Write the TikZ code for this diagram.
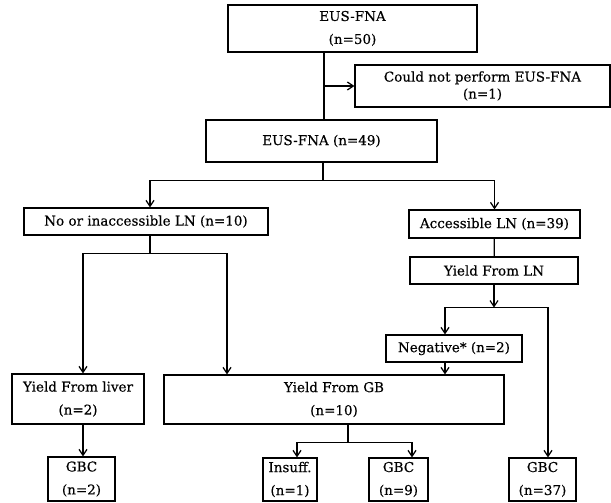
\documentclass[tikz,border=0pt]{standalone}
\usepackage{fontspec}
\newfontface\flowfont[FakeBold=0.35]{DejaVu Serif}
\usetikzlibrary{arrows.meta,calc}

\begin{document}
\begin{tikzpicture}[x=1pt,y=-1pt,
    every node/.style={font=\flowfont\fontsize{13.5}{23}\selectfont},
    flowbox/.style={draw=black, line width=1.2pt, inner sep=0pt, align=center},
    link/.style={line width=1.2pt},
    arr/.style={link, -{Straight Barb[length=6pt,width=8pt]}}]
  \useasboundingbox (0,0) rectangle (611,503);

  % =================== top: EUS-FNA ===================
  \node[flowbox, minimum width=249pt, minimum height=47pt] (start) at (352.5,28.5) {EUS-FNA\\(n=50)};
  \node[flowbox, minimum width=255pt, minimum height=42pt,
        font=\flowfont\fontsize{13.5}{17}\selectfont] (nofna) at (482.5,86) {Could not perform EUS-FNA\\(n=1)};
  \node[flowbox, minimum width=231pt, minimum height=42pt] (fna) at (321.5,141) {EUS-FNA (n=49)};

  % =================== LN branches ===================
  \node[flowbox, minimum width=244pt, minimum height=27pt] (noln) at (146,221.5) {No or inaccessible LN (n=10)};
  \node[flowbox, minimum width=171pt, minimum height=28pt] (accln) at (494.5,224) {Accessible LN (n=39)};
  \node[flowbox, minimum width=168pt, minimum height=27pt] (yieldln) at (494,270.5) {Yield From LN};
  \node[flowbox, minimum width=136pt, minimum height=27pt] (neg) at (454,348.5) {Negative* (n=2)};

  % =================== yield boxes ===================
  \node[flowbox, minimum width=132pt, minimum height=50pt] (liver) at (78,399) {Yield From liver\\(n=2)};
  \node[flowbox, minimum width=340pt, minimum height=49pt] (gb) at (334,399.5) {Yield From GB\\(n=10)};

  % =================== outcomes ===================
  \node[flowbox, minimum width=67pt, minimum height=44pt] (gbcliver) at (81.5,479) {GBC\\(n=2)};
  \node[flowbox, minimum width=54pt, minimum height=43pt] (insuff) at (290,479.5) {Insuff.\\(n=1)};
  \node[flowbox, minimum width=59pt, minimum height=43pt] (gbcgb) at (398.5,479.5) {GBC\\(n=9)};
  \node[flowbox, minimum width=67pt, minimum height=43pt] (gbcln) at (542.5,479.5) {GBC\\(n=37)};

  % =================== connectors ===================
  % stem off the first box
  \coordinate (stem) at (324,0);
  \draw[link] (stem |- start.south) -- (stem |- fna.north);
  \draw[arr] (stem |- nofna.west) -- (nofna.west);

  % split under EUS-FNA (n=49)
  \draw[link] ([xshift=1.5pt]fna.south) -- ++(0,18) coordinate (split);
  \draw[arr] (split) -| ([xshift=4pt]noln.north);
  \draw[arr] (split) -| (accln.north);
  \draw[link] (accln) -- (yieldln);

  % left split: liver and GB
  \draw[link] ([xshift=4pt]noln.south) -- ++(0,18) coordinate (lsplit);
  \draw[arr] (lsplit) -| ([xshift=5pt]liver.north);
  \draw[arr] (lsplit) -| ([xshift=-107pt]gb.north);
  \draw[arr] ([xshift=5pt]liver.south) -- ([xshift=1.5pt]gbcliver.north);

  % right split: negative and GBC
  \draw[arr] (yieldln.south) -- ++(0,23) coordinate (rsplit);
  \draw[arr] (rsplit) -| ([xshift=-9pt]neg.north);
  \draw[arr] (rsplit) -| ([xshift=5.5pt]gbcln.north);
  \draw[arr] ([xshift=-9pt]neg.south) -- ([xshift=-9pt]neg.south |- gb.north);

  % split under GB
  \draw[link] ([xshift=14pt]gb.south) -- ++(0,18) coordinate (gsplit);
  \draw[arr] (gsplit) -| ([xshift=7pt]insuff.north);
  \draw[arr] (gsplit) -| ([xshift=13.5pt]gbcgb.north);
\end{tikzpicture}
\end{document}
